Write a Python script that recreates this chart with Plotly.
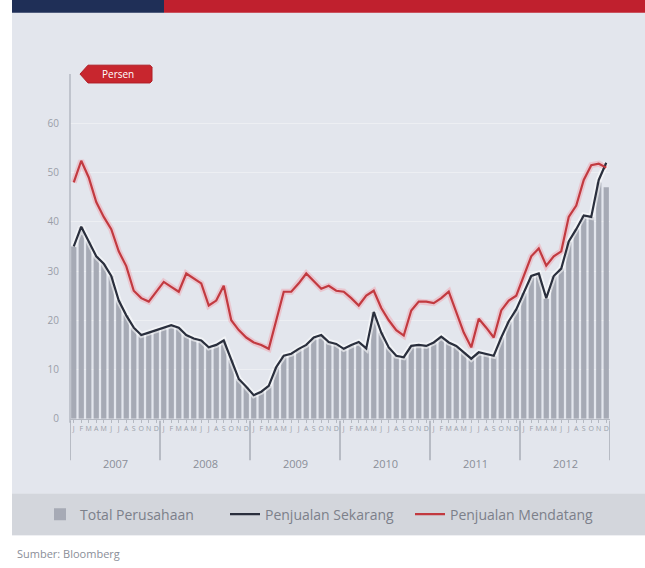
import plotly.graph_objects as go

# Monthly survey, Jan 2007 - Dec 2012
years = ["2007", "2008", "2009", "2010", "2011", "2012"]
month_initials = ["J", "F", "M", "A", "M", "J", "J", "A", "S", "O", "N", "D"]

total_perusahaan = [
    35, 39, 36, 33, 31.5, 29, 24, 21, 18.5, 17, 17.5, 18,
    18.5, 19, 18.5, 17, 16.3, 15.9, 14.5, 15, 15.9, 12, 8.1, 6.5,
    4.8, 5.5, 6.7, 10.5, 12.8, 13.2, 14.2, 15, 16.5, 17, 15.6, 15.2,
    14.2, 15, 15.6, 14.3, 21.7, 17.5, 14.5, 12.8, 12.5, 14.8, 15, 14.8,
    15.5, 16.7, 15.5, 14.8, 13.5, 12.2, 13.5, 13.2, 12.8, 16.5, 19.8, 22.2,
    25.5, 29, 29.5, 24.5, 29, 30.5, 36, 38.5, 41.3, 41, 48, 47,
]

penjualan_sekarang = [
    35, 39, 36, 33, 31.5, 29, 24, 21, 18.5, 17, 17.5, 18,
    18.5, 19, 18.5, 17, 16.3, 15.9, 14.5, 15, 15.9, 12, 8.1, 6.5,
    4.8, 5.5, 6.7, 10.5, 12.8, 13.2, 14.2, 15, 16.5, 17, 15.6, 15.2,
    14.2, 15, 15.6, 14.3, 21.7, 17.5, 14.5, 12.8, 12.5, 14.8, 15, 14.8,
    15.5, 16.7, 15.5, 14.8, 13.5, 12.2, 13.5, 13.2, 12.8, 16.5, 19.8, 22.2,
    25.5, 29, 29.5, 24.5, 29, 30.5, 36, 38.5, 41.3, 41, 48.5, 52,
]

penjualan_mendatang = [
    48, 52.4, 49, 44, 41, 38.5, 34, 31, 26, 24.5, 23.8, 25.8,
    27.8, 26.8, 25.8, 29.5, 28.5, 27.5, 23, 24, 27, 20, 18, 16.5,
    15.5, 15, 14.2, 20, 25.8, 25.8, 27.5, 29.5, 28, 26.4, 27, 26,
    25.8, 24.5, 23, 25, 26, 22.5, 20, 18, 16.9, 22, 23.8, 23.8,
    23.5, 24.5, 25.8, 21.5, 17.5, 14.5, 20.3, 18.5, 16.5, 22, 24, 25,
    29, 33, 34.6, 31.1, 33, 34, 41, 43.3, 48.5, 51.5, 51.8, 51,
]

W, H = 645, 568
months = list(range(len(penjualan_sekarang)))
ticktext = [month_initials[i % 12] for i in months]


def py(px):
    """Pixel row (from top) to paper fraction."""
    return 1 - px / H


def px_(x):
    return x / W


NAVY = "#1f2f57"
RED = "#c0202e"
BG = "#e3e6ed"
LINE_DARK = "#2a2f3d"
LINE_RED = "#c23a40"

fig = go.Figure()

fig.add_trace(go.Bar(
    x=months, y=total_perusahaan, name="Total Perusahaan",
    marker=dict(color="#a6aab5", line=dict(width=0)),
))

# soft halos under the lines
fig.add_trace(go.Scatter(
    x=months, y=penjualan_sekarang, mode="lines", showlegend=False, hoverinfo="skip",
    line=dict(color="rgba(255,255,255,0.55)", width=6),
))
fig.add_trace(go.Scatter(
    x=months, y=penjualan_mendatang, mode="lines", showlegend=False, hoverinfo="skip",
    line=dict(color="rgba(240,160,170,0.45)", width=6),
))

fig.add_trace(go.Scatter(
    x=months, y=penjualan_sekarang, mode="lines", name="Penjualan Sekarang",
    line=dict(color=LINE_DARK, width=2.2),
))
fig.add_trace(go.Scatter(
    x=months, y=penjualan_mendatang, mode="lines", name="Penjualan Mendatang",
    line=dict(color=LINE_RED, width=2.2),
))

shapes = [
    # page panels
    dict(type="rect", xref="paper", yref="paper", x0=px_(12), x1=1, y0=py(542), y1=1,
         fillcolor=BG, line_width=0, layer="below"),
    dict(type="rect", xref="paper", yref="paper", x0=px_(12), x1=1, y0=py(542), y1=py(500),
         fillcolor="#d3d6dc", line_width=0, layer="below"),
    dict(type="rect", xref="paper", yref="paper", x0=px_(12), x1=px_(164), y0=py(13), y1=1,
         fillcolor=NAVY, line_width=0),
    dict(type="rect", xref="paper", yref="paper", x0=px_(164), x1=1, y0=py(13), y1=1,
         fillcolor=RED, line_width=0),
    # y axis line
    dict(type="line", xref="paper", yref="paper", x0=px_(70), x1=px_(70), y0=py(428), y1=py(75),
         line=dict(color="#b5b9c2", width=1.5)),
    # unit badge
    dict(type="path", xref="paper", yref="paper",
         path=(f"M {px_(80)},{py(75)} L {px_(88)},{py(66)} L {px_(150)},{py(66)} "
               f"L {px_(152)},{py(68)} L {px_(152)},{py(82)} L {px_(150)},{py(84)} "
               f"L {px_(88)},{py(84)} Z"),
         fillcolor="#c8262e", line=dict(color="#b01e26", width=1)),
]

# year separators below the axis
for k in range(len(years) + 1):
    shapes.append(dict(type="line", xref="x", yref="paper", x0=k * 12 - 0.5, x1=k * 12 - 0.5,
                       y0=py(466), y1=py(426), line=dict(color="#a8acb6", width=1.5)))

annotations = [
    dict(x=k * 12 + 5.5, xref="x", y=py(469), yref="paper", text=yr, showarrow=False,
         font=dict(size=11, color="#8a8e98"), yanchor="middle")
    for k, yr in enumerate(years)
]
annotations += [
    dict(x=px_(118), y=py(75), xref="paper", yref="paper", text="Persen", showarrow=False,
         font=dict(size=10, color="white"), xanchor="center", yanchor="middle"),
    dict(x=px_(15), y=py(560), xref="paper", yref="paper", text="Sumber: Bloomberg",
         showarrow=False, font=dict(size=11, color="#8a8e98"), xanchor="left", yanchor="middle"),
]

fig.update_layout(
    width=W, height=H,
    margin=dict(l=0, r=0, t=0, b=0),
    paper_bgcolor="white",
    plot_bgcolor="rgba(0,0,0,0)",
    font=dict(family="Open Sans, Arial, sans-serif"),
    bargap=0.3,
    shapes=shapes,
    annotations=annotations,
    showlegend=True,
    legend=dict(
        orientation="h", x=px_(40), y=py(521), xanchor="left", yanchor="middle",
        font=dict(size=14, color="#7c808a"), bgcolor="rgba(0,0,0,0)",
        itemwidth=30, traceorder="normal", entrywidth=140,
    ),
    xaxis=dict(
        domain=[px_(70), px_(610)], range=[-0.5, 71.5],
        tickmode="array", tickvals=months, ticktext=ticktext,
        tickfont=dict(size=7, color="#9a9ea8"), tickangle=0,
        ticks="outside", ticklen=3, tickcolor="#b5b9c2",
        showgrid=False, zeroline=False, showline=True, linecolor="#b5b9c2",
    ),
    yaxis=dict(
        domain=[py(424), py(75)], range=[0, 70],
        tickvals=[0, 10, 20, 30, 40, 50, 60],
        tickfont=dict(size=10, color="#9a9ea8"),
        showgrid=True, gridcolor="rgba(255,255,255,0.35)", zeroline=False,
        ticklabelstandoff=10,
    ),
)

fig.write_html("out.html")
